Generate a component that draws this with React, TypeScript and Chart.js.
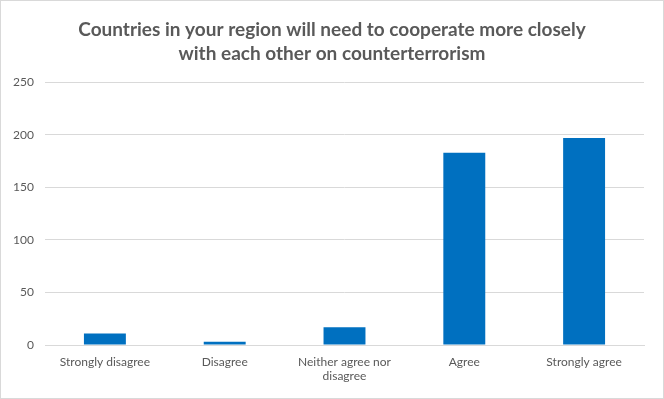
import React, { useEffect, useRef } from "react";
import { Chart, registerables } from "chart.js";

Chart.register(...registerables);

const categories: (string | string[])[] = [
  "Strongly disagree",
  "Disagree",
  ["Neither agree nor", "disagree"],
  "Agree",
  "Strongly agree",
];
const values = [11, 3, 17, 183, 197];
const titleLines = [
  "Countries in your region will need to cooperate more closely",
  "with each other on counterterrorism",
];
const yMax = 250;
const yStep = 50;

export default function App() {
  const ref = useRef<HTMLCanvasElement | null>(null);
  useEffect(() => {
    if (!ref.current) return;
    const chart = new Chart(ref.current, {
      type: "bar",
      data: {
        labels: categories,
        datasets: [
          {
            data: values,
            backgroundColor: "#0070C0",
            barPercentage: 0.35,
            categoryPercentage: 1,
          },
        ],
      },
      options: {
        animation: false,
        responsive: false,
        maintainAspectRatio: false,
        layout: { padding: 0 },
        plugins: {
          legend: { display: false },
          tooltip: { enabled: false },
          title: {
            display: true,
            text: titleLines,
            color: "#595959",
            font: { family: "Lato", size: 19, weight: "bold", lineHeight: 1.27 },
            padding: { top: 17, bottom: 16 },
          },
        },
        scales: {
          x: {
            grid: { display: false, drawTicks: false },
            border: { display: true, color: "#d9d9d9" },
            ticks: {
              color: "#595959",
              font: { family: "Lato", size: 12 },
              padding: 10,
              maxRotation: 0,
              autoSkip: false,
            },
            afterFit: (s: any) => {
              s.height = 53;
            },
          },
          y: {
            min: 0,
            max: yMax,
            grid: { color: "#d9d9d9", drawTicks: false },
            border: { display: false },
            ticks: {
              stepSize: yStep,
              color: "#595959",
              font: { family: "Lato", size: 12 },
              padding: 11,
            },
            afterFit: (s: any) => {
              s.width = 44;
            },
          },
          yRight: {
            position: "right",
            min: 0,
            max: yMax,
            grid: { display: false, drawTicks: false },
            border: { display: false },
            ticks: { display: false },
            afterFit: (s: any) => {
              s.width = 19;
            },
          },
        },
      },
    });
    return () => chart.destroy();
  }, []);
  return (
    <div
      style={{
        position: "fixed",
        left: 0,
        top: 0,
        width: 664,
        height: 399,
        boxSizing: "border-box",
        border: "1px solid #d9d9d9",
        background: "#fff",
      }}
    >
      <canvas ref={ref} width={662} height={397} style={{ display: "block" }} />
    </div>
  );
}
